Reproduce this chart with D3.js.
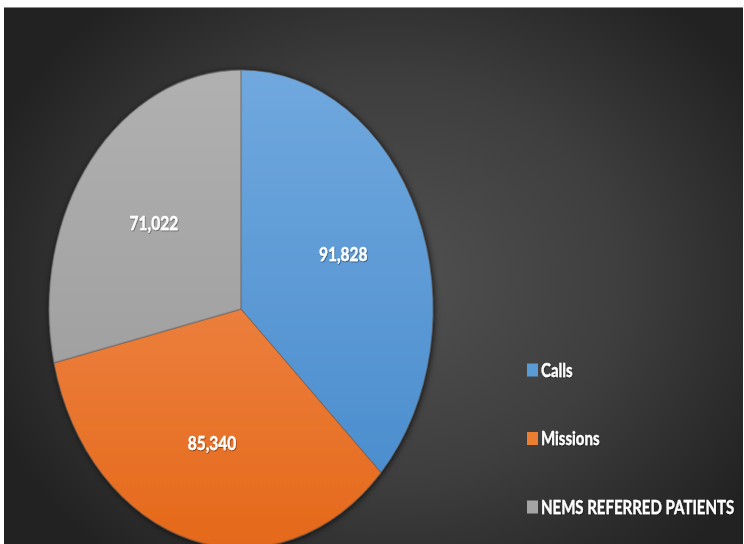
<!DOCTYPE html>
<html>
<head>
<meta charset="utf-8">
<script src="https://cdn.jsdelivr.net/npm/d3@7"></script>
<style>
  html, body { margin: 0; padding: 0; background: #ffffff; }
  svg { display: block; }
  text { font-family: Lato, "Open Sans", "Liberation Sans", sans-serif; font-weight: 700; }
</style>
</head>
<body>
<svg id="chart" width="744" height="544"></svg>
<script>
// Chart data
const categories = ["Calls", "Missions", "NEMS REFERRED PATIENTS"];
const values = [91828, 85340, 71022];
const valueLabels = ["91,828", "85,340", "71,022"];

// Slice colours: lighter at the top, deeper at the bottom
const topColors = ["#70a8de", "#f39561", "#b1b1b1"];
const bottomColors = ["#4589cb", "#e5691a", "#979797"];
const legendColors = ["#5b9bd5", "#ed7d31", "#a5a5a5"];

const W = 744, H = 544;
const svg = d3.select("#chart");
const defs = svg.append("defs");

// Background panel with a soft radial highlight
const bg = defs.append("radialGradient").attr("id", "bgGrad")
  .attr("gradientUnits", "userSpaceOnUse")
  .attr("cx", 390).attr("cy", 280).attr("r", 430)
  .attr("gradientTransform", "translate(390,280) scale(1,0.85) translate(-390,-280)");
bg.append("stop").attr("offset", "0").attr("stop-color", "#515151");
bg.append("stop").attr("offset", "0.55").attr("stop-color", "#3e3e3e");
bg.append("stop").attr("offset", "1").attr("stop-color", "#222222");

svg.append("rect").attr("x", 4).attr("y", 7).attr("width", 739).attr("height", H - 7)
  .attr("fill", "url(#bgGrad)");
svg.append("line").attr("x1", 4).attr("x2", 743).attr("y1", 7.5).attr("y2", 7.5)
  .attr("stroke", "#8a8a8a").attr("stroke-width", 1);

// Pie geometry (elliptical)
const cx = 241, cy = 309, rx = 192, ry = 239;

const shadow = defs.append("filter").attr("id", "pieShadow")
  .attr("x", "-10%").attr("y", "-10%").attr("width", "120%").attr("height", "120%");
shadow.append("feDropShadow").attr("dx", 1).attr("dy", 1).attr("stdDeviation", 3)
  .attr("flood-color", "#000").attr("flood-opacity", 0.75);

const textShadow = defs.append("filter").attr("id", "txtShadow")
  .attr("x", "-20%").attr("y", "-40%").attr("width", "140%").attr("height", "180%");
textShadow.append("feDropShadow").attr("dx", 0.6).attr("dy", 0.8).attr("stdDeviation", 0.6)
  .attr("flood-color", "#000").attr("flood-opacity", 0.45);

const pie = d3.pie().sort(null).value(d => d)(values);

// Arcs are built on a unit radius and stretched into an ellipse
const R = 100;
const sx = rx / R, sy = ry / R;
const arc = d3.arc().innerRadius(0).outerRadius(R);

// Vertical gradients in the stretched pie's local coordinates
categories.forEach((c, i) => {
  const g = defs.append("linearGradient").attr("id", "slice" + i)
    .attr("gradientUnits", "userSpaceOnUse")
    .attr("x1", 0).attr("x2", 0).attr("y1", -R).attr("y2", R);
  g.append("stop").attr("offset", "0").attr("stop-color", topColors[i]);
  g.append("stop").attr("offset", "1").attr("stop-color", bottomColors[i]);
});

const pieG = svg.append("g").attr("transform", `translate(${cx},${cy})`)
  .attr("filter", "url(#pieShadow)");

pieG.selectAll("path").data(pie).join("path")
  .attr("d", arc)
  .attr("transform", `scale(${sx},${sy})`)
  .attr("fill", (d, i) => `url(#slice${i})`)
  .attr("stroke", "rgba(95,95,95,0.7)")
  .attr("stroke-width", 0.8)
  .attr("vector-effect", "non-scaling-stroke");

// Value labels at slice centroids
const labelArc = d3.arc().innerRadius(R * 0.58).outerRadius(R * 0.58);
const labelG = svg.append("g").attr("transform", `translate(${cx},${cy})`);
labelG.selectAll("text").data(pie).join("text")
  .attr("transform", d => {
    const [x, y] = labelArc.centroid(d);
    return `translate(${x * sx},${y * sy}) scale(1,1.28)`;
  })
  .attr("text-anchor", "middle")
  .attr("dy", "0.36em")
  .attr("font-size", 15.5)
  .attr("fill", "#ffffff")
  .attr("stroke", "#ffffff")
  .attr("stroke-width", 0.25)
  .attr("filter", "url(#txtShadow)")
  .text((d, i) => valueLabels[i]);

// Legend
const legendY = d3.scalePoint().domain(categories).range([370, 507]);
const legend = svg.append("g");
const item = legend.selectAll("g").data(categories).join("g")
  .attr("transform", d => `translate(527,${legendY(d)})`);
item.append("rect").attr("x", 0).attr("y", -6.5).attr("width", 11).attr("height", 13)
  .attr("fill", (d, i) => legendColors[i]);
item.append("text")
  .attr("x", 14)
  .attr("transform", "scale(1,1.28)")
  .attr("dy", "0.36em")
  .attr("font-size", 15)
  .attr("fill", "#ffffff")
  .attr("stroke", "#ffffff")
  .attr("stroke-width", 0.25)
  .attr("filter", "url(#txtShadow)")
  .text(d => d);
</script>
</body>
</html>
